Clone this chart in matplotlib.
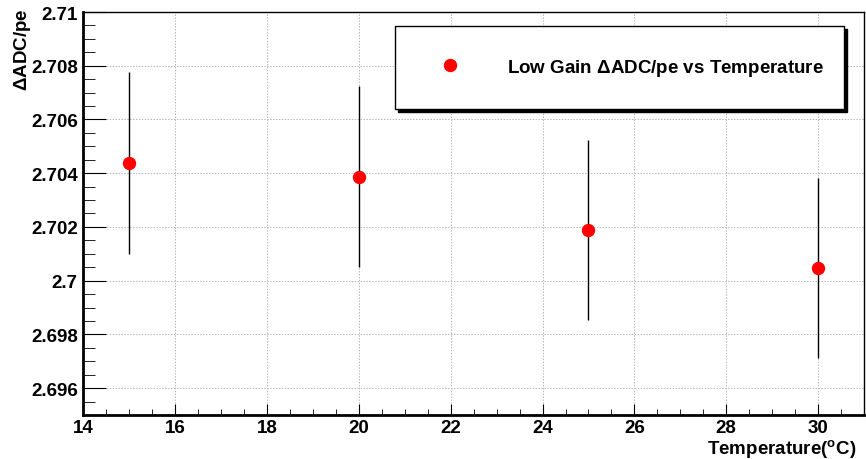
#!/usr/bin/env python

import matplotlib
matplotlib.use("Agg")
import matplotlib.pyplot as plt
from matplotlib.lines import Line2D
from matplotlib.ticker import MultipleLocator, FuncFormatter

# low gain dADC/pe measured at each temperature
temperature = [15, 20, 25, 30]
adc_per_pe = [2.70439, 2.70387, 2.70190, 2.70046]
adc_err = [0.00338, 0.00337, 0.00335, 0.00335]

plt.rcParams['font.family'] = ['Liberation Sans', 'DejaVu Sans']
plt.rcParams['font.weight'] = 'bold'
plt.rcParams['mathtext.fontset'] = 'custom'
plt.rcParams['mathtext.rm'] = 'Liberation Sans:bold'
plt.rcParams['mathtext.it'] = 'Liberation Sans:bold'
plt.rcParams['mathtext.bf'] = 'Liberation Sans:bold'

fig = plt.figure(figsize=(8.66, 4.6), dpi=100)
ax = fig.add_axes([0.0962, 0.0957, 0.9015, 0.876])

ax.errorbar(temperature, adc_per_pe, yerr=adc_err, fmt='o', color='red',
            markersize=8.6, ecolor='black', elinewidth=1, capsize=0, zorder=3)

ax.set_xlim(14, 31)
ax.set_ylim(2.695, 2.71)
ax.xaxis.set_major_locator(MultipleLocator(2))
ax.xaxis.set_minor_locator(MultipleLocator(0.5))
ax.yaxis.set_major_locator(MultipleLocator(0.002))
ax.yaxis.set_minor_locator(MultipleLocator(0.0005))
ax.yaxis.set_major_formatter(FuncFormatter(lambda v, p: '%g' % round(v, 4)))

ax.tick_params(which='both', direction='in', labelsize=13.5, top=False, right=False)
ax.tick_params(axis='x', which='major', length=8, pad=3)
ax.tick_params(axis='x', which='minor', length=4.6)
ax.tick_params(axis='y', which='major', length=16.6, pad=4)
ax.tick_params(axis='y', which='minor', length=8.4)
for lab in ax.get_xticklabels() + ax.get_yticklabels():
    lab.set_fontweight('bold')

for s in ax.spines.values():
    s.set_linewidth(1.0)
ax.spines['left'].set_linewidth(2)
ax.spines['bottom'].set_linewidth(2)

ax.grid(True, which='major', color='#b8b8b8', linestyle=(0, (1.5, 1.5)), linewidth=0.7)
ax.set_axisbelow(True)

ax.set_xlabel(r'Temperature($^{\mathrm{o}}$C)', fontsize=13.5, fontweight='bold', loc='right')
ax.xaxis.set_label_coords(0.99, -0.055)
ax.set_ylabel(r'$\Delta$ADC/pe', fontsize=13.5, fontweight='bold', loc='top')
ax.yaxis.set_label_coords(-0.064, 1.012)

handle = Line2D([], [], marker='o', color='red', linestyle='none', markersize=8.6)
leg = ax.legend([handle], [r'Low Gain $\Delta$ADC/pe vs Temperature'],
                loc='center', bbox_to_anchor=(0.3993, 0.7568, 0.5751, 0.211),
                mode='expand', borderaxespad=0, fontsize=13.5,
                frameon=True, fancybox=False, numpoints=1,
                borderpad=1.65, handlelength=2.56, handletextpad=1.76,
                shadow={'color': 'black', 'alpha': 1})
leg.get_frame().set_edgecolor('black')
leg.get_frame().set_linewidth(1)
for t in leg.get_texts():
    t.set_fontweight('bold')

plt.savefig('out.png', dpi=100)
